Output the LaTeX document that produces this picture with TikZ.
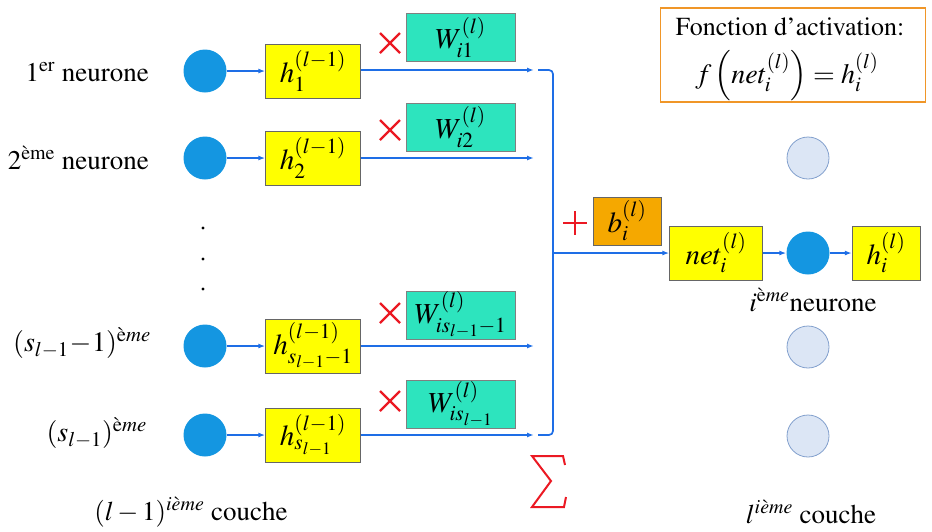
\documentclass[tikz,border=0pt]{standalone}
\usepackage{amsmath}
\usepackage[T1]{fontenc}
\usepackage{mathptmx}
\usetikzlibrary{arrows.meta}
\definecolor{nblue}{RGB}{20,150,225}
\definecolor{ablue}{RGB}{30,110,230}
\definecolor{hyel}{RGB}{255,255,0}
\definecolor{wteal}{RGB}{45,228,190}
\definecolor{borange}{RGB}{245,168,0}
\definecolor{forange}{RGB}{240,150,40}
\definecolor{lfill}{RGB}{220,230,245}
\definecolor{ldraw}{RGB}{130,160,205}
\definecolor{xred}{RGB}{235,25,35}
\tikzset{
  txt/.style={font=\fontsize{27}{28}\selectfont, inner sep=0pt},
  mtxt/.style={font=\fontsize{28}{28}\selectfont, inner sep=0pt},
  neuron/.style={circle, fill=nblue, minimum size=43pt, inner sep=0pt},
  lneuron/.style={circle, fill=lfill, draw=ldraw, line width=0.8pt, minimum size=42pt, inner sep=0pt},
  hbox/.style={draw=black!60, fill=hyel, minimum width=95pt, minimum height=54pt, inner sep=0pt, font=\fontsize{29}{28}\selectfont},
  wbox/.style={draw=black!50, fill=wteal, minimum width=109pt, minimum height=48pt, inner sep=0pt, font=\fontsize{29}{28}\selectfont},
  arr/.style={draw=ablue, line width=1.7pt, -{Latex[length=7pt,width=5pt]}},
  brace/.style={draw=ablue, line width=1.7pt, rounded corners=4pt},
  opline/.style={draw=xred, line width=2.4pt},
}
\begin{document}
\begin{tikzpicture}[x=1pt,y=-1pt]
\useasboundingbox (0,0) rectangle (932,531);
% left labels
\node[txt, anchor=east] (l1) at (149,72) {1\textsuperscript{er} neurone};
\node[txt, anchor=east] (l2) at (149,158) {2\textsuperscript{ème} neurone};
\node[mtxt, anchor=east] (l3) at (151,343) {$(s_{l-1}\!-\!1)^{\text{è}me}$};
\node[mtxt, anchor=east] (l4) at (147,433) {$(s_{l-1})^{\text{è}me}$};
\node[circle, fill=black, inner sep=1.2pt] (d1) at (203,228) {};
\node[circle, fill=black, inner sep=1.2pt] (d2) at (203,259) {};
\node[circle, fill=black, inner sep=1.2pt] (d3) at (203,289) {};
\node[txt] (lc) at (191,512) {$(l-1)^{i\grave{e}me}$ couche};
% neurons
\node[neuron] (n1) at (205,71) {};
\node[neuron] (n2) at (205,158) {};
\node[neuron] (n3) at (205,346) {};
\node[neuron] (n4) at (205,435) {};
% h boxes
\node[hbox] (h1) at (313,71) {$h_1^{(l-1)}$};
\node[hbox] (h2) at (313,158) {$h_2^{(l-1)}$};
\node[hbox] (h3) at (313,346) {$h_{s_{l-1}-1}^{(l-1)}$};
\node[hbox] (h4) at (313,435) {$h_{s_{l-1}}^{(l-1)}$};
% weights
\node[wbox] (w1) at (460.5,37.5) {$W_{i1}^{(l)}$};
\node[wbox] (w2) at (460.5,127) {$W_{i2}^{(l)}$};
\node[wbox] (w3) at (460.5,315) {$W_{is_{l-1}-1}^{(l)}$};
\node[wbox] (w4) at (460.5,404) {$W_{is_{l-1}}^{(l)}$};
% multiplication marks
\foreach \i/\y in {1/43,2/130,3/313,4/401} {
  \coordinate (xa\i) at (380,\y-10); \coordinate (xb\i) at (400,\y+10);
  \coordinate (xc\i) at (380,\y+10); \coordinate (xd\i) at (400,\y-10);
  \draw[opline] (xa\i) -- (xb\i); \draw[opline] (xc\i) -- (xd\i);
}
% arrows
\foreach \i in {1,2,3,4} {\draw[arr] (n\i) -- (h\i);}
\coordinate (e1) at (534,70);
\coordinate (e2) at (534,158);
\coordinate (e3) at (534,346);
\coordinate (e4) at (534,435);
\foreach \i in {1,2,3,4} {\draw[arr] (h\i.east |- e\i) -- (e\i);}
% brace
\coordinate (bt) at (538,70);
\coordinate (bb) at (538,435);
\coordinate (bm) at (553,253);
\draw[brace] (bt) -| (bm) |- (bb);
% bias
\coordinate (pa) at (563,223); \coordinate (pb) at (587,223);
\coordinate (pc) at (575,211); \coordinate (pd) at (575,235);
\draw[opline] (pa) -- (pb); \draw[opline] (pc) -- (pd);
\node[draw=black!60, fill=borange, minimum width=68pt, minimum height=48pt, inner sep=0pt, font=\fontsize{29}{28}\selectfont] (b) at (627,221) {$b_i^{(l)}$};
% net
\node[hbox, minimum width=93pt] (net) at (716,253) {$net_i^{(l)}$};
\node[neuron] (ni) at (808,253) {};
\node[hbox, minimum width=68pt] (hi) at (886,253) {$h_i^{(l)}$};
\draw[arr] (bm) -- (net);
\draw[arr] (net) -- (ni);
\draw[arr] (ni) -- (hi);
\node[txt] (ilab) at (813,300) {$i^{\text{è}me}$neurone};
% light neurons
\node[lneuron] (m1) at (808,158) {};
\node[lneuron] (m2) at (808,347) {};
\node[lneuron] (m3) at (808,436) {};
\node[txt] (llab) at (811,512) {$l^{i\grave{e}me}$ couche};
% sigma (drawn)
\coordinate (s1) at (565,465); \coordinate (s2) at (563,456); \coordinate (s3) at (532,456);
\coordinate (s4) at (551,481); \coordinate (s5) at (532,507); \coordinate (s6) at (564,507);
\coordinate (s7) at (566,497);
\draw[draw=xred, line width=2pt, line join=miter] (s1) -- (s2) -- (s3) -- (s4) -- (s5) -- (s6) -- (s7);
% activation function box
\node[draw=forange, line width=1.6pt, fill=white, minimum width=265pt, minimum height=94pt, inner sep=0pt] (fb) at (793,55) {};
\node[txt, font=\fontsize{26}{28}\selectfont] (ft) at (790,27) {Fonction d'activation:};
\node[mtxt, font=\fontsize{28}{28}\selectfont] (ff) at (787,76) {$f\left(net_i^{(l)}\right)=h_i^{(l)}$};
\end{tikzpicture}
\end{document}
